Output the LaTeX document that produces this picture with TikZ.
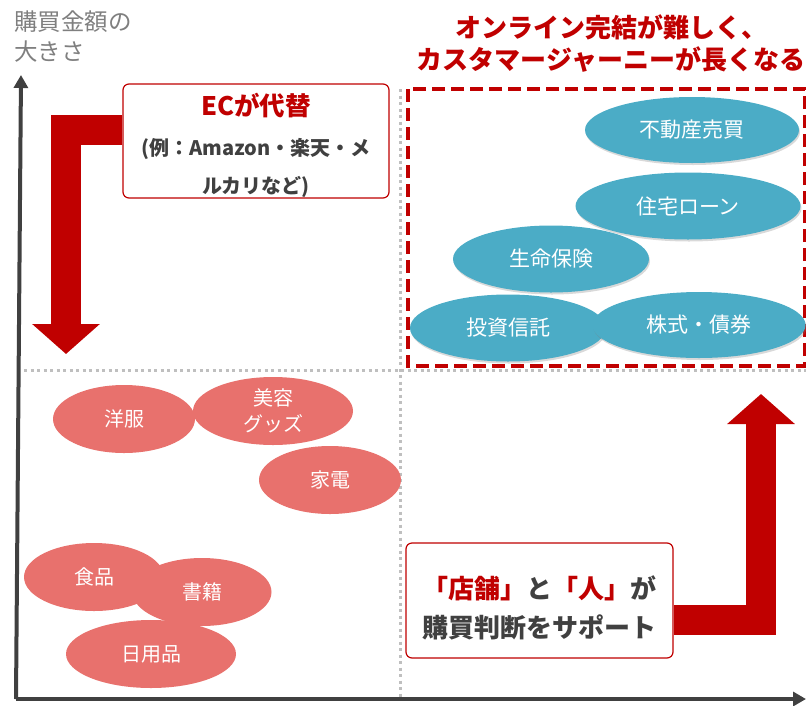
\documentclass[tikz,border=0pt]{standalone}
\usepackage{fontspec}
\setmainfont{Noto Sans CJK JP}
\usepackage{xcolor}
\usepackage{tikz}
\usetikzlibrary{positioning, arrows.meta, shapes.geometric, shadows, backgrounds}
\definecolor{darkred}{HTML}{C00000}
\definecolor{ovalblue}{HTML}{4BACC6}
\definecolor{ovalpink}{HTML}{E8716D}
\definecolor{textgray}{HTML}{404040}
\definecolor{labelgray}{HTML}{7F7F7F}
\definecolor{gridgray}{HTML}{BFBFBF}

\begin{document}
\begin{tikzpicture}[x=1pt, y=-1pt,
    blueoval/.style={ellipse, fill=ovalblue, text=white, inner sep=0pt,
      font=\fontsize{21}{24}\selectfont,
      drop shadow={opacity=0.3, shadow xshift=1pt, shadow yshift=-2pt}},
    pinkoval/.style={ellipse, fill=ovalpink, text=white, inner sep=0pt,
      font=\fontsize{20}{26}\selectfont, align=center},
    notebox/.style={draw=darkred, line width=1.2pt, fill=white, rounded corners=6pt},
    boxtext/.style={align=center, inner sep=0pt, text=textgray},
    bigarrow/.style={draw=darkred, line width=30pt, line join=miter,
      -{Triangle[length=30pt, width=66pt]}},
    axisline/.style={draw=textgray, line width=4pt, -{Triangle[length=13pt, width=14pt]}},
    gridline/.style={draw=gridgray, line width=3pt, dash pattern=on 3pt off 3.5pt}]
  \useasboundingbox (0,0) rectangle (806,705);

  % axes and quadrants
  \node[anchor=north west, align=left, inner sep=0pt, text=labelgray,
        font=\fontsize{23.5}{30}\selectfont] (ylabel) at (14,11) {購買金額の\\大きさ};
  \draw[gridline] (24,370) -- (806,370);
  \draw[gridline] (400,89) -- (400,697);
  \coordinate (origin) at (16,699);
  \coordinate (ytip) at (21,75);
  \coordinate (xtip) at (806,699);
  \draw[axisline] (origin) -- (ytip);
  \draw[axisline] (origin) -- (xtip);

  % upper right
  \node[text=darkred, font=\fontsize{26}{32}\selectfont\bfseries, align=center]
    (title) at (611,44) {オンライン完結が難しく、\\カスタマージャーニーが長くなる};
  \draw[darkred, line width=4pt, dash pattern=on 13pt off 6pt] (408,89) rectangle (805,366);
  \node[blueoval, minimum width=214, minimum height=66] (fudosan) at (692,130) {不動産売買};
  \node[blueoval, minimum width=225, minimum height=67] (jutaku) at (688,206) {住宅ローン};
  \node[blueoval, minimum width=196, minimum height=67] (seimei) at (551,259) {生命保険};
  \node[blueoval, minimum width=196, minimum height=67] (toushin) at (508,328) {投資信託};
  \node[blueoval, minimum width=213, minimum height=66] (kabushiki) at (699,325) {株式・債券};

  % lower left
  \node[pinkoval, minimum width=142, minimum height=68] (yofuku) at (124,419) {洋服};
  \node[pinkoval, minimum width=160, minimum height=68] (biyou) at (273,411) {美容\\グッズ};
  \node[pinkoval, minimum width=142, minimum height=68] (kaden) at (330,480) {家電};
  \node[pinkoval, minimum width=140, minimum height=68] (shokuhin) at (94,577) {食品};
  \node[pinkoval, minimum width=139, minimum height=68] (shoseki) at (202,592) {書籍};
  \node[pinkoval, minimum width=170, minimum height=68] (nichiyo) at (151,654) {日用品};

  % callouts
  \node[notebox, minimum width=266, minimum height=114] (ecbox) at (256,141) {};
  \node[boxtext, font=\fontsize{20}{38}\selectfont\bfseries, yshift=-4pt] (ectext) at (ecbox.center)
    {{\color{darkred}\fontsize{25.5}{28}\selectfont ECが代替}\\[2pt]
     (例：Amazon・楽天・メ\\ルカリなど)};
  \node[notebox, minimum width=267, minimum height=115] (supbox) at (539.5,600.5) {};
  \node[boxtext, font=\fontsize{26}{39}\selectfont\bfseries, yshift=-7pt] (suptext) at (supbox.center)
    {{\color{darkred}「店舗」}と{\color{darkred}「人」}が\\購買判断をサポート};

  \coordinate (tipL) at (66,354);
  \coordinate (tipR) at (761,394);
  \begin{pgfonlayer}{background}
    \draw[bigarrow] ([yshift=11.5pt]ecbox.west) -| (tipL);
    \draw[bigarrow] ([yshift=-19pt]supbox.east) -| (tipR);
  \end{pgfonlayer}
\end{tikzpicture}
\end{document}
